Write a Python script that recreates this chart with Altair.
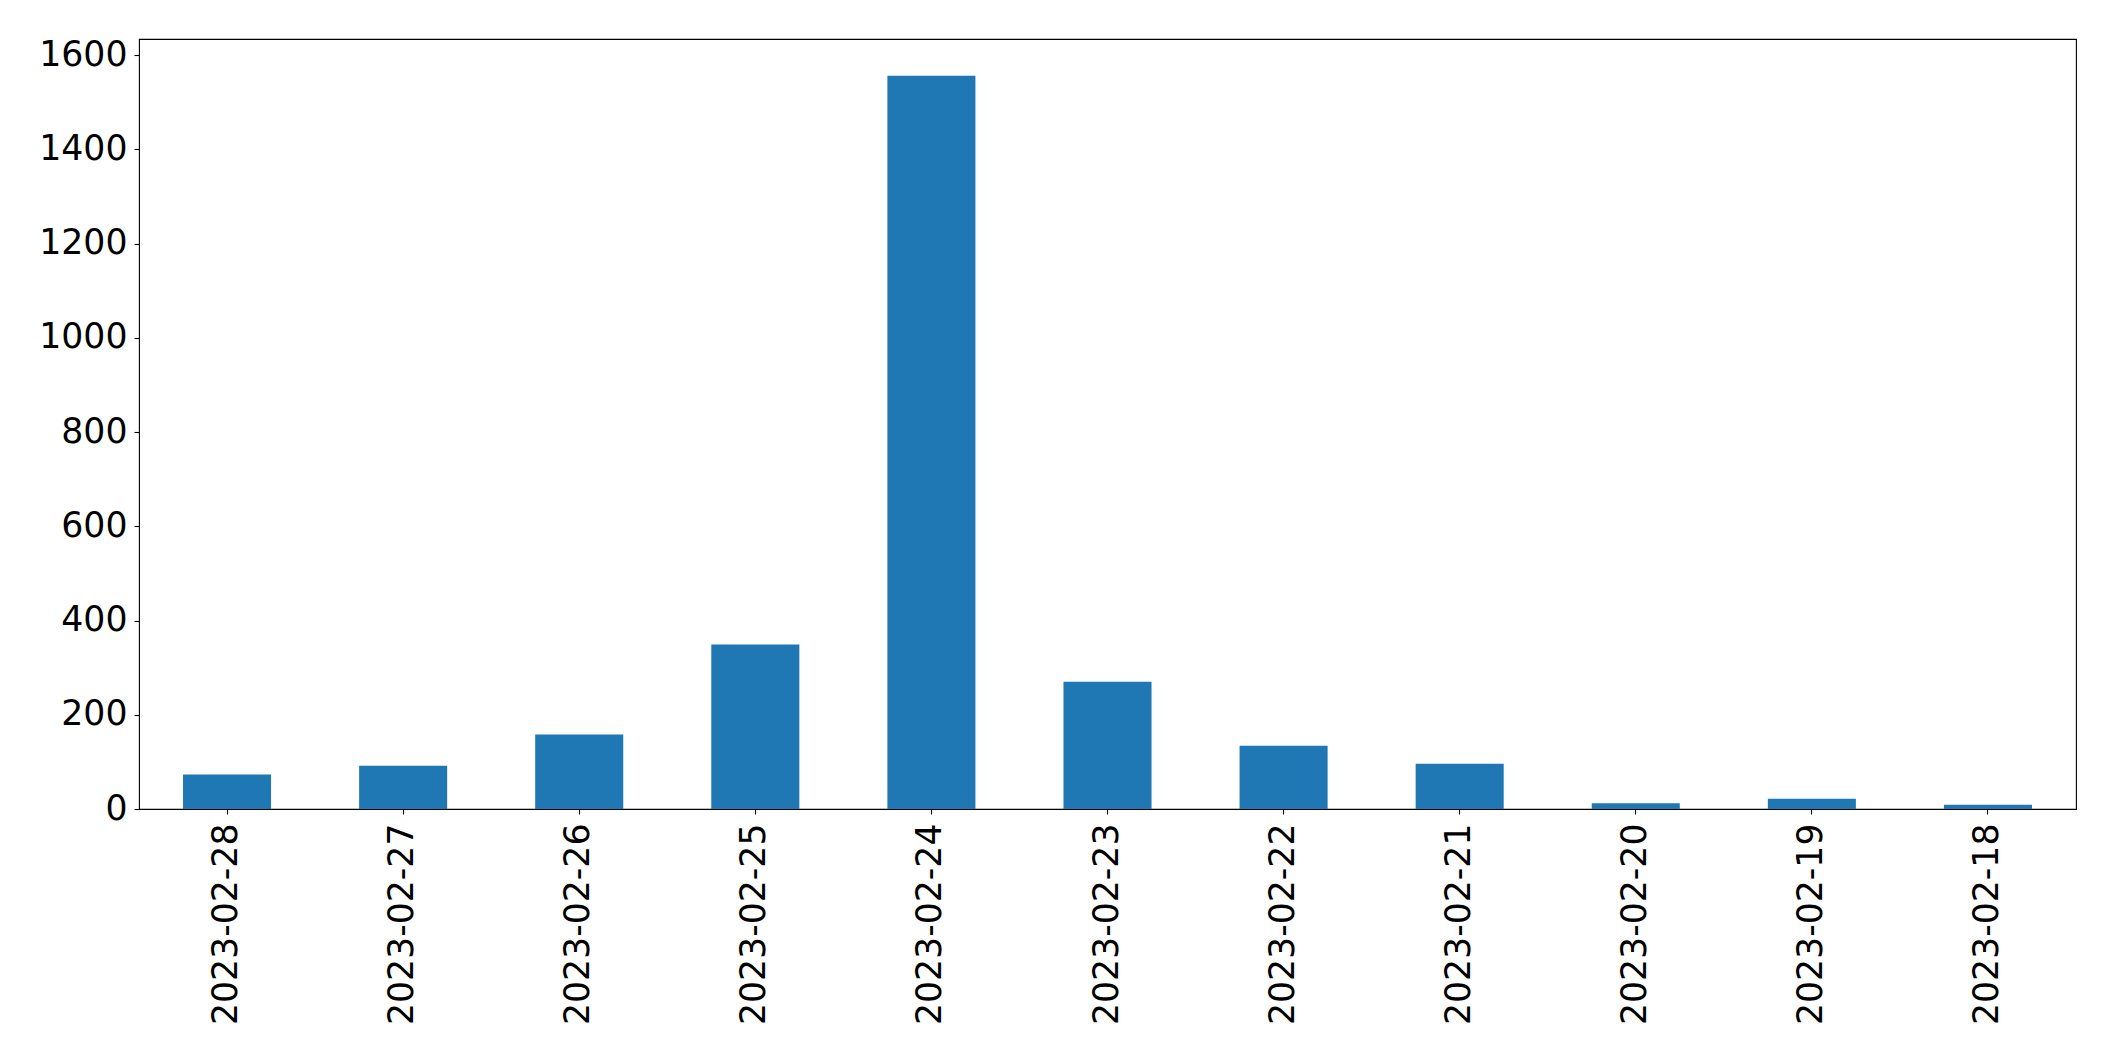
import altair as alt
import pandas as pd

dates = ["2023-02-28", "2023-02-27", "2023-02-26", "2023-02-25", "2023-02-24",
         "2023-02-23", "2023-02-22", "2023-02-21", "2023-02-20", "2023-02-19",
         "2023-02-18"]
counts = [73, 92, 158, 349, 1556, 270, 134, 96, 12, 22, 9]
y_ticks = [0, 200, 400, 600, 800, 1000, 1200, 1400, 1600]

df = pd.DataFrame({"date": dates, "count": counts})

FONT = "DejaVu Sans"
FS = 34.7

chart = alt.Chart(df).mark_bar(color="#1f77b4").encode(
    x=alt.X("date:N", sort=None, title=None,
            scale=alt.Scale(paddingInner=0.5, paddingOuter=0.25),
            axis=alt.Axis(labelAngle=-90, labelFont=FONT, labelFontSize=FS,
                          labelColor="black", tickColor="black", tickSize=5,
                          tickWidth=1.1, labelPadding=9, domain=False,
                          grid=False, labelLimit=0)),
    y=alt.Y("count:Q", title=None,
            scale=alt.Scale(domain=[0, 1634], nice=False, zero=True),
            axis=alt.Axis(values=y_ticks, format="d",
                          labelFont=FONT, labelFontSize=FS, labelColor="black",
                          tickColor="black", tickSize=5, tickWidth=1.1,
                          labelPadding=7, domain=False, grid=False)),
).properties(
    width=1937,
    height=770,
    autosize=alt.AutoSizeParams(type="none"),
    padding={"left": 131, "top": 31, "right": 30, "bottom": 240},
).configure_view(
    stroke="black", strokeWidth=1.1
)

chart.save("out.html", embed_options={"renderer": "svg", "actions": False})
